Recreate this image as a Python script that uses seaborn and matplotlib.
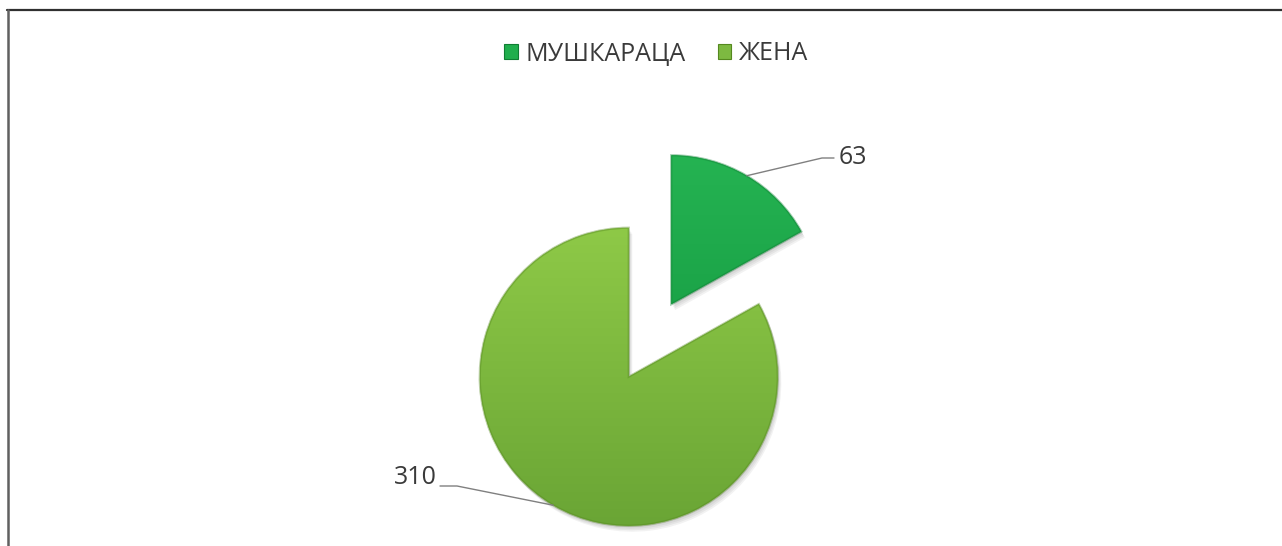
#!/usr/bin/env python3
import numpy as np
import matplotlib
matplotlib.use("Agg")
import matplotlib.pyplot as plt
from matplotlib.patches import Wedge, Patch
from matplotlib.lines import Line2D
import seaborn as sns

# Data
categories = ["МУШКАРАЦА", "ЖЕНА"]
values = [63, 310]
colors = ["#20ae4d", "#7db941"]
top_colors = ["#25b352", "#8ec947"]
bottom_colors = ["#1ba448", "#6aa535"]
rim_colors = ["#0f7e33", "#55881f"]

sns.set_theme(style="white")
plt.rcParams['font.family'] = ['Open Sans', 'DejaVu Sans']
text_color = "#3a3a3a"

W, H = 1282, 546
fig = plt.figure(figsize=(W / 100, H / 100), dpi=100)
fig.patch.set_facecolor("white")
ax = fig.add_axes([0, 0, 1, 1])

radius = 149
center = (650, H - 340.5)
# pie explode is in data units here (pixels)
explode = [0.282 * radius, 0.282 * radius]

wedges, _ = ax.pie(values, explode=explode, startangle=90, counterclock=False,
                   radius=radius, center=center, colors=colors,
                   wedgeprops=dict(linewidth=0))

ax.set_xlim(0, W)
ax.set_ylim(0, H)
ax.set_aspect("equal")
ax.axis("off")

# soft shadow, vertical gradient and darker rim for each slice
yy = np.linspace(1, 0, 256).reshape(-1, 1)
for i, w in enumerate(wedges):
    for k in range(4):
        d = 1.5 + k * 1.5
        sh = Wedge((w.center[0] + d * 0.6, w.center[1] - d), w.r, w.theta1, w.theta2,
                   facecolor="black", alpha=0.05, linewidth=0, zorder=0.5)
        ax.add_patch(sh)
    c_top = np.array(matplotlib.colors.to_rgb(top_colors[i]))
    c_bot = np.array(matplotlib.colors.to_rgb(bottom_colors[i]))
    grad = c_bot + (c_top - c_bot) * yy[..., None]
    grad = np.repeat(grad, 2, axis=1)
    bb = w.get_path().get_extents(w.get_patch_transform())
    im = ax.imshow(grad, extent=[bb.x0, bb.x1, bb.y0, bb.y1], origin="upper",
                   aspect="auto", zorder=1.5, interpolation="bilinear")
    im.set_clip_path(w)
    rim = Wedge(w.center, w.r, w.theta1, w.theta2, facecolor="none",
                edgecolor=rim_colors[i], linewidth=1.6, alpha=0.4, zorder=2)
    ax.add_patch(rim)
ax.set_xlim(0, W)
ax.set_ylim(0, H)

# data labels with leader lines
label_pos = [(839, H - 157), (437, H - 478)]
for i, w in enumerate(wedges):
    ang = np.deg2rad((w.theta1 + w.theta2) / 2)
    px = w.center[0] + w.r * np.cos(ang)
    py = w.center[1] + w.r * np.sin(ang)
    tx, ty = label_pos[i]
    if i == 0:
        ax.plot([px, tx - 17, tx - 5], [py, ty - 1, ty - 1], color="#808080", lw=1, zorder=3)
        ax.text(tx, ty, str(values[i]), ha="left", va="center", fontsize=18, color=text_color)
    else:
        ax.plot([px, tx + 20, tx + 3], [py, ty - 8, ty - 8], color="#808080", lw=1, zorder=3)
        ax.text(tx, ty, str(values[i]), ha="right", va="center", fontsize=18, color=text_color)

# legend
handles = [Patch(facecolor=colors[i], edgecolor=rim_colors[i], linewidth=0.8, label=categories[i])
           for i in range(len(categories))]
fig.legend(handles=handles, loc="center", bbox_to_anchor=(656 / W, 1 - 54 / H), ncol=2,
           frameon=False, fontsize=18, labelcolor=text_color, handlelength=0.55,
           handleheight=0.55, handletextpad=0.3, columnspacing=1.3)

# frame of the original chart area
fig.add_artist(Line2D([7 / W, 1], [1 - 10 / H, 1 - 10 / H], color="#303030", lw=1.6))
fig.add_artist(Line2D([7.5 / W, 7.5 / W], [0, 1 - 10 / H], color="#606060", lw=1.8))

fig.savefig("out.png", dpi=100, facecolor="white")
